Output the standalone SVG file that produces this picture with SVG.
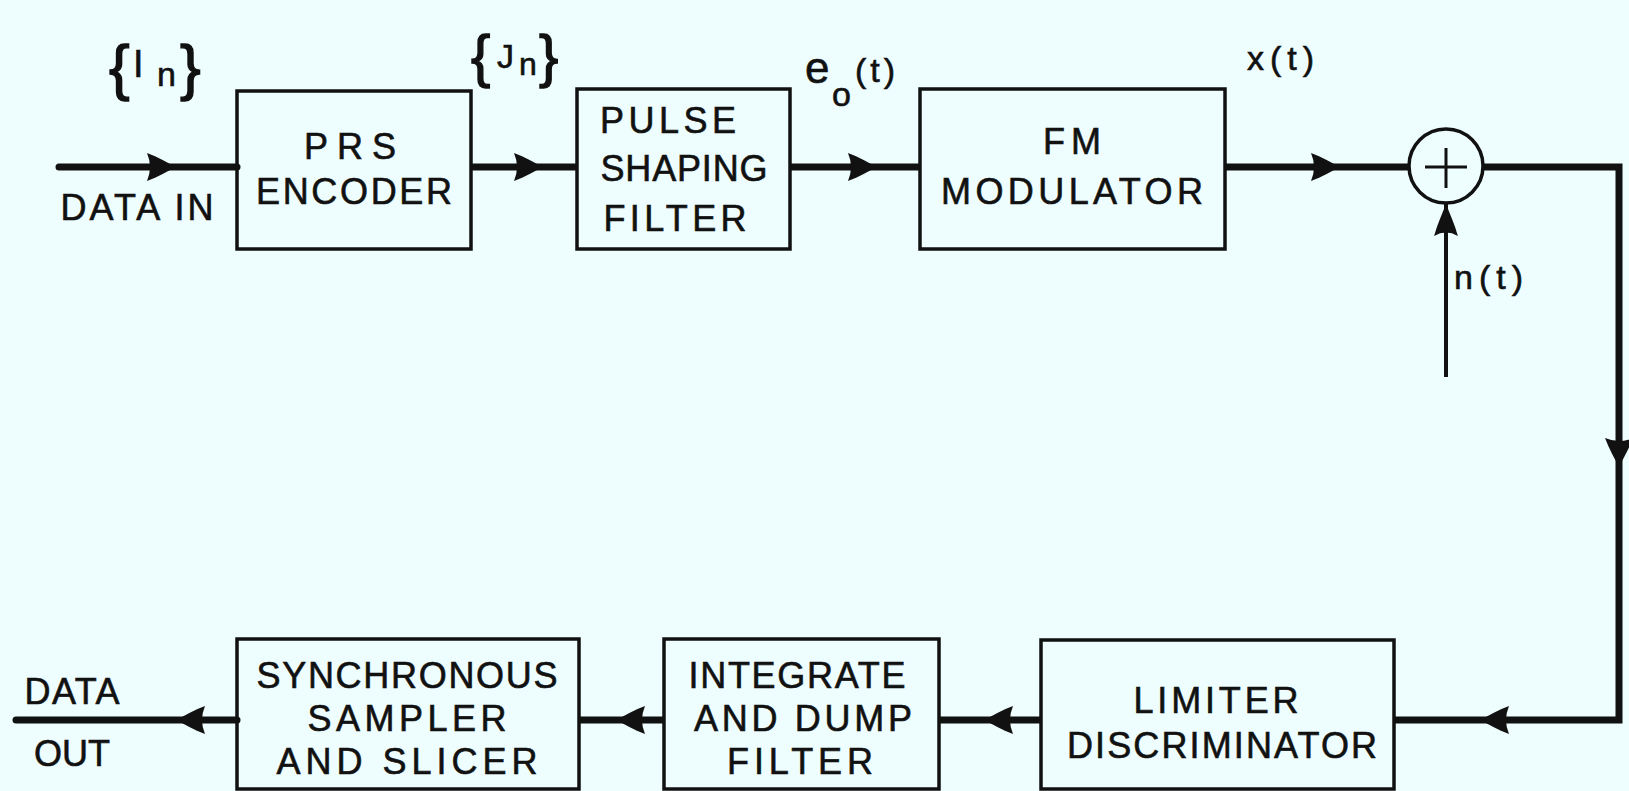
<svg xmlns="http://www.w3.org/2000/svg" width="1629" height="791" viewBox="0 0 1629 791">
<style>
.bg{fill:#eefdfd}
.box{fill:none;stroke:#111;stroke-width:3.5}
.wire{fill:none;stroke:#111;stroke-width:7;stroke-linejoin:miter}
.thin{fill:none;stroke:#111;stroke-width:4}
.lbl{font-family:"Liberation Sans",Arial,sans-serif;font-size:36px;fill:#111;stroke:#111;stroke-width:0.6;text-anchor:middle}
.sig{font-family:"Liberation Sans",Arial,sans-serif;fill:#111;stroke:#111;stroke-width:0.6}
.brace{font-family:"Liberation Sans",Arial,sans-serif;fill:#111;stroke:#111;stroke-width:1.4}
.ah{fill:#111}
</style>
<defs>
<path id="ah" d="M0,0 C-8,-4 -18,-10 -29,-14 Q-23,0 -29,14 C-18,10 -8,4 0,0 Z"/>
</defs>
<rect class="bg" x="0" y="0" width="1629" height="791"/>

<g id="connectors">
<path class="wire" d="M59,167 H237" stroke-linecap="round"/>
<path class="wire" d="M471,167 H577"/>
<path class="wire" d="M790,167 H920"/>
<path class="wire" d="M1225,167 H1409"/>
<path class="wire" d="M1483,167 H1619 V720 H1394"/>
<path class="wire" d="M1041,720 H939"/>
<path class="wire" d="M664,720 H579"/>
<path class="wire" d="M237,720 H16" stroke-linecap="round"/>
<path class="thin" d="M1446,377 V204"/>
<use href="#ah" class="ah" transform="translate(176,167)"/>
<use href="#ah" class="ah" transform="translate(543,167)"/>
<use href="#ah" class="ah" transform="translate(877,167)"/>
<use href="#ah" class="ah" transform="translate(1340,167)"/>
<use href="#ah" class="ah" transform="translate(1619,467) rotate(90)"/>
<use href="#ah" class="ah" transform="translate(1446,204) rotate(-90) scale(1.1,0.85)"/>
<use href="#ah" class="ah" transform="translate(1480,720) rotate(180)"/>
<use href="#ah" class="ah" transform="translate(984,720) rotate(180)"/>
<use href="#ah" class="ah" transform="translate(616,720) rotate(180)"/>
<use href="#ah" class="ah" transform="translate(176,720) rotate(180)"/>
</g>

<g id="label-data-in">
<text class="lbl" x="137" y="220" textLength="153" lengthAdjust="spacing">DATA IN</text>
</g>
<g id="label-In">
<text class="brace" x="109" y="88" font-size="62">{</text>
<text class="sig" x="133" y="77" font-family="Liberation Serif" font-size="38" stroke-width="1.2">I</text>
<text class="sig" x="157" y="86" font-size="34">n</text>
<text class="brace" x="180" y="88" font-size="62">}</text>
</g>
<g id="label-Jn">
<text class="brace" x="471" y="76" font-size="58">{</text>
<text class="sig" x="497" y="68" font-size="34">J</text>
<text class="sig" x="519" y="75" font-size="32">n</text>
<text class="brace" x="539" y="76" font-size="58">}</text>
</g>
<g id="label-eo">
<text class="sig" x="805" y="83" font-size="44">e</text>
<text class="sig" x="832" y="106" font-size="34">o</text>
<text class="sig" x="855" y="82" font-size="34" letter-spacing="4">(t)</text>
</g>
<g id="label-x">
<text class="sig" x="1247" y="70" font-size="34" letter-spacing="6">x(t)</text>
</g>
<g id="label-n">
<text class="sig" x="1454" y="289" font-size="34" letter-spacing="6">n(t)</text>
</g>

<g id="prs-encoder">
<rect class="box" x="237" y="91" width="234" height="158"/>
<text class="lbl" x="350" y="159" textLength="92" lengthAdjust="spacing">PRS</text>
<text class="lbl" x="354" y="204" textLength="196" lengthAdjust="spacing">ENCODER</text>
</g>
<g id="pulse-shaping-filter">
<rect class="box" x="577" y="89" width="213" height="160"/>
<text class="lbl" x="668" y="133" textLength="136" lengthAdjust="spacing">PULSE</text>
<text class="lbl" x="684" y="181" textLength="167" lengthAdjust="spacing">SHAPING</text>
<text class="lbl" x="675" y="231" textLength="143" lengthAdjust="spacing">FILTER</text>
</g>
<g id="fm-modulator">
<rect class="box" x="920" y="89" width="305" height="160"/>
<text class="lbl" x="1072" y="154" textLength="58" lengthAdjust="spacing">FM</text>
<text class="lbl" x="1072" y="204" textLength="262" lengthAdjust="spacing">MODULATOR</text>
</g>
<g id="summer">
<circle cx="1446" cy="166" r="37" fill="none" stroke="#111" stroke-width="3.5"/>
<path d="M1425,167 H1467 M1446,148 V188" stroke="#111" stroke-width="3" fill="none"/>
</g>
<g id="limiter-discriminator">
<rect class="box" x="1041" y="640" width="353" height="149"/>
<text class="lbl" x="1216" y="713" textLength="165" lengthAdjust="spacing">LIMITER</text>
<text class="lbl" x="1222" y="758" textLength="310" lengthAdjust="spacing">DISCRIMINATOR</text>
</g>
<g id="integrate-dump-filter">
<rect class="box" x="664" y="639" width="275" height="150"/>
<text class="lbl" x="797" y="688" textLength="217" lengthAdjust="spacing">INTEGRATE</text>
<text class="lbl" x="803" y="731" textLength="218" lengthAdjust="spacing">AND DUMP</text>
<text class="lbl" x="800" y="774" textLength="146" lengthAdjust="spacing">FILTER</text>
</g>
<g id="synchronous-sampler-slicer">
<rect class="box" x="237" y="639" width="342" height="150"/>
<text class="lbl" x="407" y="688" textLength="301" lengthAdjust="spacing">SYNCHRONOUS</text>
<text class="lbl" x="407" y="731" textLength="199" lengthAdjust="spacing">SAMPLER</text>
<text class="lbl" x="407" y="774" textLength="261" lengthAdjust="spacing">AND SLICER</text>
</g>
<g id="label-data-out">
<text class="lbl" x="72" y="704" textLength="95" lengthAdjust="spacing">DATA</text>
<text class="lbl" x="72" y="766" textLength="76" lengthAdjust="spacing">OUT</text>
</g>
</svg>
